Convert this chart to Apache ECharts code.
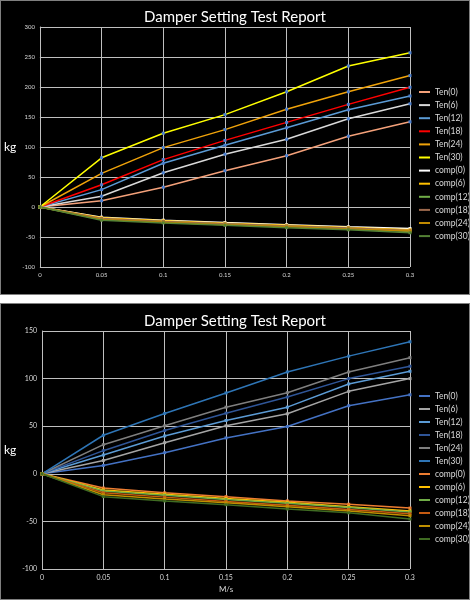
<!DOCTYPE html>
<html>
<head>
<meta charset="utf-8">
<script src="https://cdn.jsdelivr.net/npm/echarts@6/dist/echarts.min.js"></script>
<style>
  html, body { margin: 0; padding: 0; background: #ffffff; }
  #c1 { position: absolute; left: 0; top: 0; width: 468px; height: 293px; background: #000; border: 1px solid #7f7f7f; }
  #c2 { position: absolute; left: 0; top: 303px; width: 468px; height: 295px; background: #000; border: 1px solid #7f7f7f; }
</style>
</head>
<body>
<div id="c1"></div>
<div id="c2"></div>
<script>
// ---- data ----
var speeds = ['0', '0.05', '0.1', '0.15', '0.2', '0.25', '0.3'];
var seriesNames = ['Ten(0)', 'Ten(6)', 'Ten(12)', 'Ten(18)', 'Ten(24)', 'Ten(30)',
                   'comp(0)', 'comp(6)', 'comp(12)', 'comp(18)', 'comp(24)', 'comp(30)'];

// Chart 1 (top)
var top_ten0  = [0, 10.5, 33, 60.5, 85.5, 118, 142];
var top_ten6  = [0, 18, 57, 88, 113, 147, 172];
var top_ten12 = [0, 29, 73, 103, 132, 162, 185];
var top_ten18 = [0, 37, 79, 111, 141, 171, 199.5];
var top_ten24 = [0, 56, 99, 129, 163, 192, 219];
var top_ten30 = [0, 82, 123, 154, 192, 235, 257];
var top_comp0  = [0, -17, -22, -26, -29.5, -33, -36];
var top_comp6  = [0, -18, -23, -27, -30.5, -34, -38];
var top_comp12 = [0, -20, -24.5, -28.5, -32, -35.5, -41];
var top_comp18 = [0, -19, -24, -28, -31.5, -35, -39];
var top_comp24 = [0, -21, -25.5, -29.5, -33, -36.5, -40];
var top_comp30 = [0, -22, -26.5, -30.5, -34.5, -38, -43];

// Chart 2 (bottom)
var bot_ten0  = [0, 8.8, 22.2, 37.7, 49.6, 71.5, 83];
var bot_ten6  = [0, 14, 32.7, 50.4, 63, 86.6, 100];
var bot_ten12 = [0, 19.7, 39.8, 56, 70, 94.4, 107.7];
var bot_ten18 = [0, 24.3, 45.4, 63.7, 80.6, 100, 113];
var bot_ten24 = [0, 30.6, 50.4, 70, 85.2, 107, 122];
var bot_ten30 = [0, 40.5, 63.4, 84.9, 107, 123.6, 138.7];
var bot_comp0  = [0, -15, -20, -24, -28.5, -32, -36];
var bot_comp6  = [0, -17, -21.5, -26, -30, -34.5, -39];
var bot_comp12 = [0, -18, -22.5, -27, -31, -35.5, -40];
var bot_comp18 = [0, -20, -24.5, -29, -33, -37.5, -42];
var bot_comp24 = [0, -22, -26.5, -30.5, -34.5, -39, -44];
var bot_comp30 = [0, -24, -28.5, -32.5, -37, -41, -47.5];

var yTicks1 = { min: -100, max: 300, interval: 50 };
var yTicks2 = { min: -100, max: 150, interval: 50 };

// ---- styles ----
var topColors = ['#f4a17a', '#d9d9d9', '#5b9bd5', '#ff0000', '#f0a30a', '#ffff00',
                 '#ffffff', '#ffc000', '#70ad47', '#9e6a4e', '#c08a00', '#548235'];
var botColors = ['#4472c4', '#a5a5a5', '#5b9bd5', '#2f5597', '#7f7f7f', '#2e75b6',
                 '#ed7d31', '#ffc000', '#70ad47', '#c55a11', '#bf8f00', '#3f6b22'];
var FONT = 'Lato';

function buildSeries(dataArrs, colors, markerColor) {
  return dataArrs.map(function (d, i) {
    return {
      name: seriesNames[i],
      type: 'line',
      data: d,
      symbol: 'rect',
      symbolSize: 3,
      showSymbol: true,
      lineStyle: { color: colors[i], width: 1.5 },
      itemStyle: { color: markerColor ? (i < 6 ? markerColor : colors[i]) : colors[i] },
      emphasis: { disabled: true },
      animation: false
    };
  });
}

function buildOption(cfg) {
  return {
    backgroundColor: '#000',
    animation: false,
    title: {
      text: 'Damper Setting Test Report',
      left: 'center',
      top: cfg.titleTop,
      textStyle: { color: '#ffffff', fontSize: 15, fontWeight: 'normal', fontFamily: FONT }
    },
    legend: {
      orient: 'vertical',
      left: 413,
      top: cfg.legendTop,
      icon: 'rect',
      itemWidth: 11,
      itemHeight: 2,
      itemGap: cfg.legendGap,
      data: seriesNames.map(function (n, i) {
        return { name: n, itemStyle: { color: cfg.colors[i] } };
      }),
      textStyle: { color: '#d9d9d9', fontSize: 8.5, lineHeight: 10, fontFamily: FONT }
    },
    grid: cfg.grid,
    xAxis: {
      type: 'category',
      data: speeds,
      boundaryGap: false,
      name: cfg.xName,
      nameLocation: 'middle',
      nameGap: 14,
      nameTextStyle: { color: '#d9d9d9', fontSize: 8, fontFamily: FONT },
      axisLine: { show: true, lineStyle: { color: '#bfbfbf', width: 1 } },
      axisTick: { show: false },
      axisLabel: { color: '#d9d9d9', fontSize: cfg.tickFont, fontFamily: FONT, margin: 5 },
      splitLine: { show: true, lineStyle: { color: '#bfbfbf', width: 1 } }
    },
    yAxis: {
      type: 'value',
      min: cfg.yTicks.min,
      max: cfg.yTicks.max,
      interval: cfg.yTicks.interval,
      name: 'kg',
      nameLocation: 'middle',
      nameRotate: 0,
      nameGap: cfg.yNameGap,
      nameTextStyle: { color: '#ffffff', fontSize: 12, fontFamily: FONT },
      axisLine: { show: true, lineStyle: { color: '#bfbfbf', width: 1 } },
      axisTick: { show: false },
      axisLabel: { color: '#d9d9d9', fontSize: cfg.tickFont, fontFamily: FONT, margin: 5 },
      splitLine: { show: true, lineStyle: { color: '#bfbfbf', width: 1 } }
    },
    series: cfg.series
  };
}

var chart1 = echarts.init(document.getElementById('c1'));
chart1.setOption(buildOption({
  titleTop: 4,
  legendTop: 81,
  legendGap: 3.1,
  colors: topColors,
  grid: { left: 36, right: 59, top: 26, bottom: 27 },
  xName: '',
  yNameGap: 18,
  tickFont: 6,
  yTicks: yTicks1,
  series: buildSeries([top_ten0, top_ten6, top_ten12, top_ten18, top_ten24, top_ten30,
                       top_comp0, top_comp6, top_comp12, top_comp18, top_comp24, top_comp30],
                      topColors, '#4a7fd0')
}));

var chart2 = echarts.init(document.getElementById('c2'));
chart2.setOption(buildOption({
  titleTop: 5,
  legendTop: 82,
  legendGap: 3.0,
  colors: botColors,
  grid: { left: 38, right: 59, top: 27, bottom: 30 },
  xName: 'M/s',
  yNameGap: 20,
  tickFont: 7,
  yTicks: yTicks2,
  series: buildSeries([bot_ten0, bot_ten6, bot_ten12, bot_ten18, bot_ten24, bot_ten30,
                       bot_comp0, bot_comp6, bot_comp12, bot_comp18, bot_comp24, bot_comp30],
                      botColors, null)
}));
</script>
</body>
</html>
